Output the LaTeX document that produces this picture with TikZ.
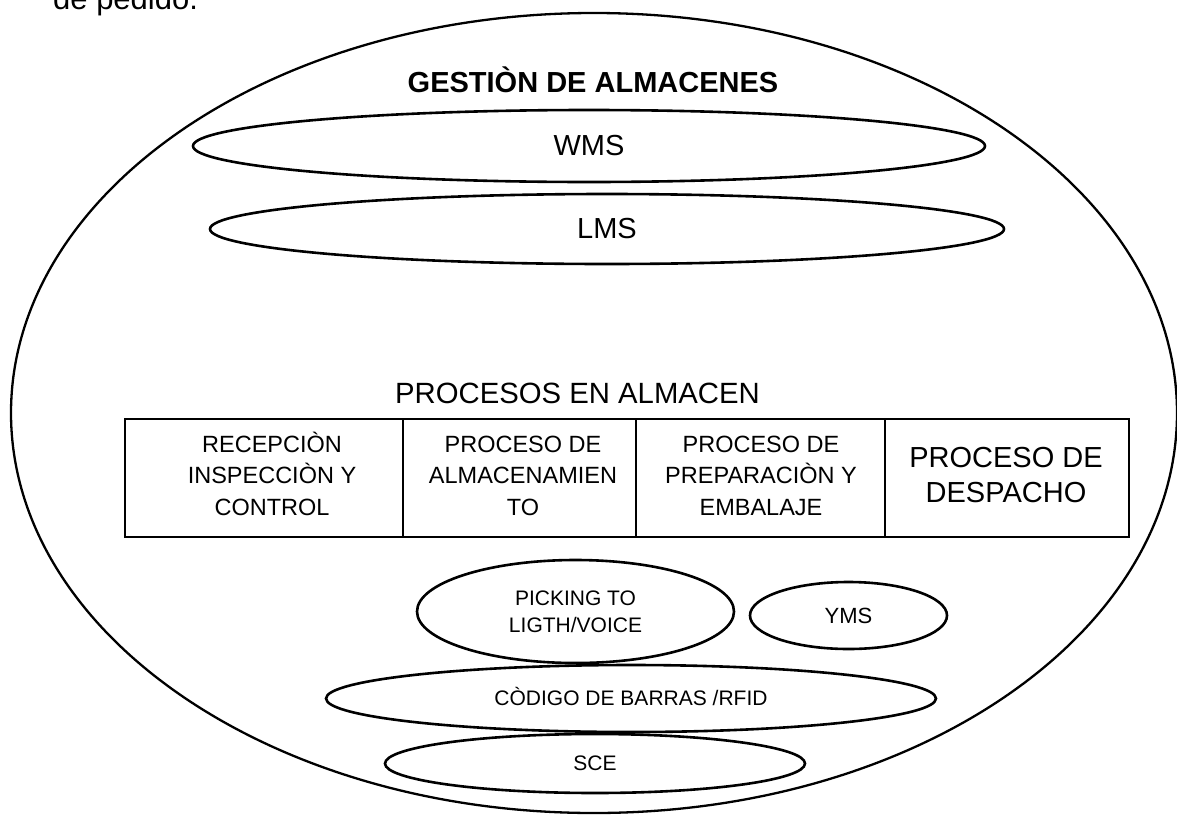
\documentclass[tikz,border=0pt]{standalone}
\usepackage{fontspec}
\setmainfont{Liberation Sans}
\usetikzlibrary{shapes.geometric}
\begin{document}
\begin{tikzpicture}[x=1pt,y=-1pt,
  bigoval/.style={draw, ellipse, line width=2.3pt, inner sep=0pt},
  oval/.style={draw, ellipse, line width=2.6pt, inner sep=0pt, align=center},
  procbox/.style={draw, rectangle, line width=2.6pt, inner sep=0pt},
  lbl/.style={inner sep=0pt, anchor=base, align=center},
  bigtxt/.style={font=\fontsize{29}{35}\selectfont},
  boxtxt/.style={font=\fontsize{23.5}{31.5}\selectfont},
  smalltxt/.style={font=\fontsize{21}{27}\selectfont}
]
\useasboundingbox (0,0) rectangle (1177,814);
\clip (0,0) rectangle (1177,814);
% fragment of text from the previous page
\node[inner sep=0pt, anchor=base west, font=\fontsize{31}{37}\selectfont] (prev) at (53,9) {de pedido.};
% outer ellipse
\node[bigoval, minimum width=1166pt, minimum height=800pt] (outer) at (594,413) {};
\node[lbl, font=\bfseries\fontsize{29}{35}\selectfont] (title) at (593,92.4) {GESTIÒN DE ALMACENES};
% WMS / LMS
\node[oval, bigtxt, minimum width=792pt, minimum height=72pt] (wms) at (589,146) {WMS};
\node[oval, bigtxt, minimum width=794pt, minimum height=70pt] (lms) at (607,229) {LMS};
% processes
\node[lbl, font=\fontsize{29.3}{35}\selectfont] (proc) at (577.5,403.5) {PROCESOS EN ALMACEN};
\node[procbox, minimum width=278pt, minimum height=118pt] (b1) at (264,478) {};
\node[procbox, minimum width=233pt, minimum height=118pt] (b2) at (519.5,478) {};
\node[procbox, minimum width=249pt, minimum height=118pt] (b3) at (760.5,478) {};
\node[procbox, minimum width=244pt, minimum height=118pt] (b4) at (1007,478) {};
\node[lbl, boxtxt] (t1) at (272,515.4) {RECEPCIÒN\\INSPECCIÒN Y\\CONTROL};
\node[lbl, boxtxt] (t2) at (523,515.4) {PROCESO DE\\ALMACENAMIEN\\TO};
\node[lbl, boxtxt] (t3) at (761,515.4) {PROCESO DE\\PREPARACIÒN Y\\EMBALAJE};
\node[lbl, font=\fontsize{29}{35}\selectfont] (t4) at (1006,502.4) {PROCESO DE\\DESPACHO};
% technologies
\node[oval, smalltxt, minimum width=317pt, minimum height=103pt] (pick) at (575.5,611.5) {PICKING TO\\LIGTH/VOICE};
\node[oval, font=\fontsize{22}{27}\selectfont, minimum width=197pt, minimum height=67pt] (yms) at (848.5,615.5) {YMS};
\node[oval, minimum width=610pt, minimum height=67pt] (cod) at (631,698.5) {};
\node[lbl, smalltxt] (codt) at (631,705.5) {CÒDIGO DE BARRAS /RFID};
\node[oval, smalltxt, minimum width=420pt, minimum height=59pt] (sce) at (595,763.5) {SCE};
\end{tikzpicture}
\end{document}
